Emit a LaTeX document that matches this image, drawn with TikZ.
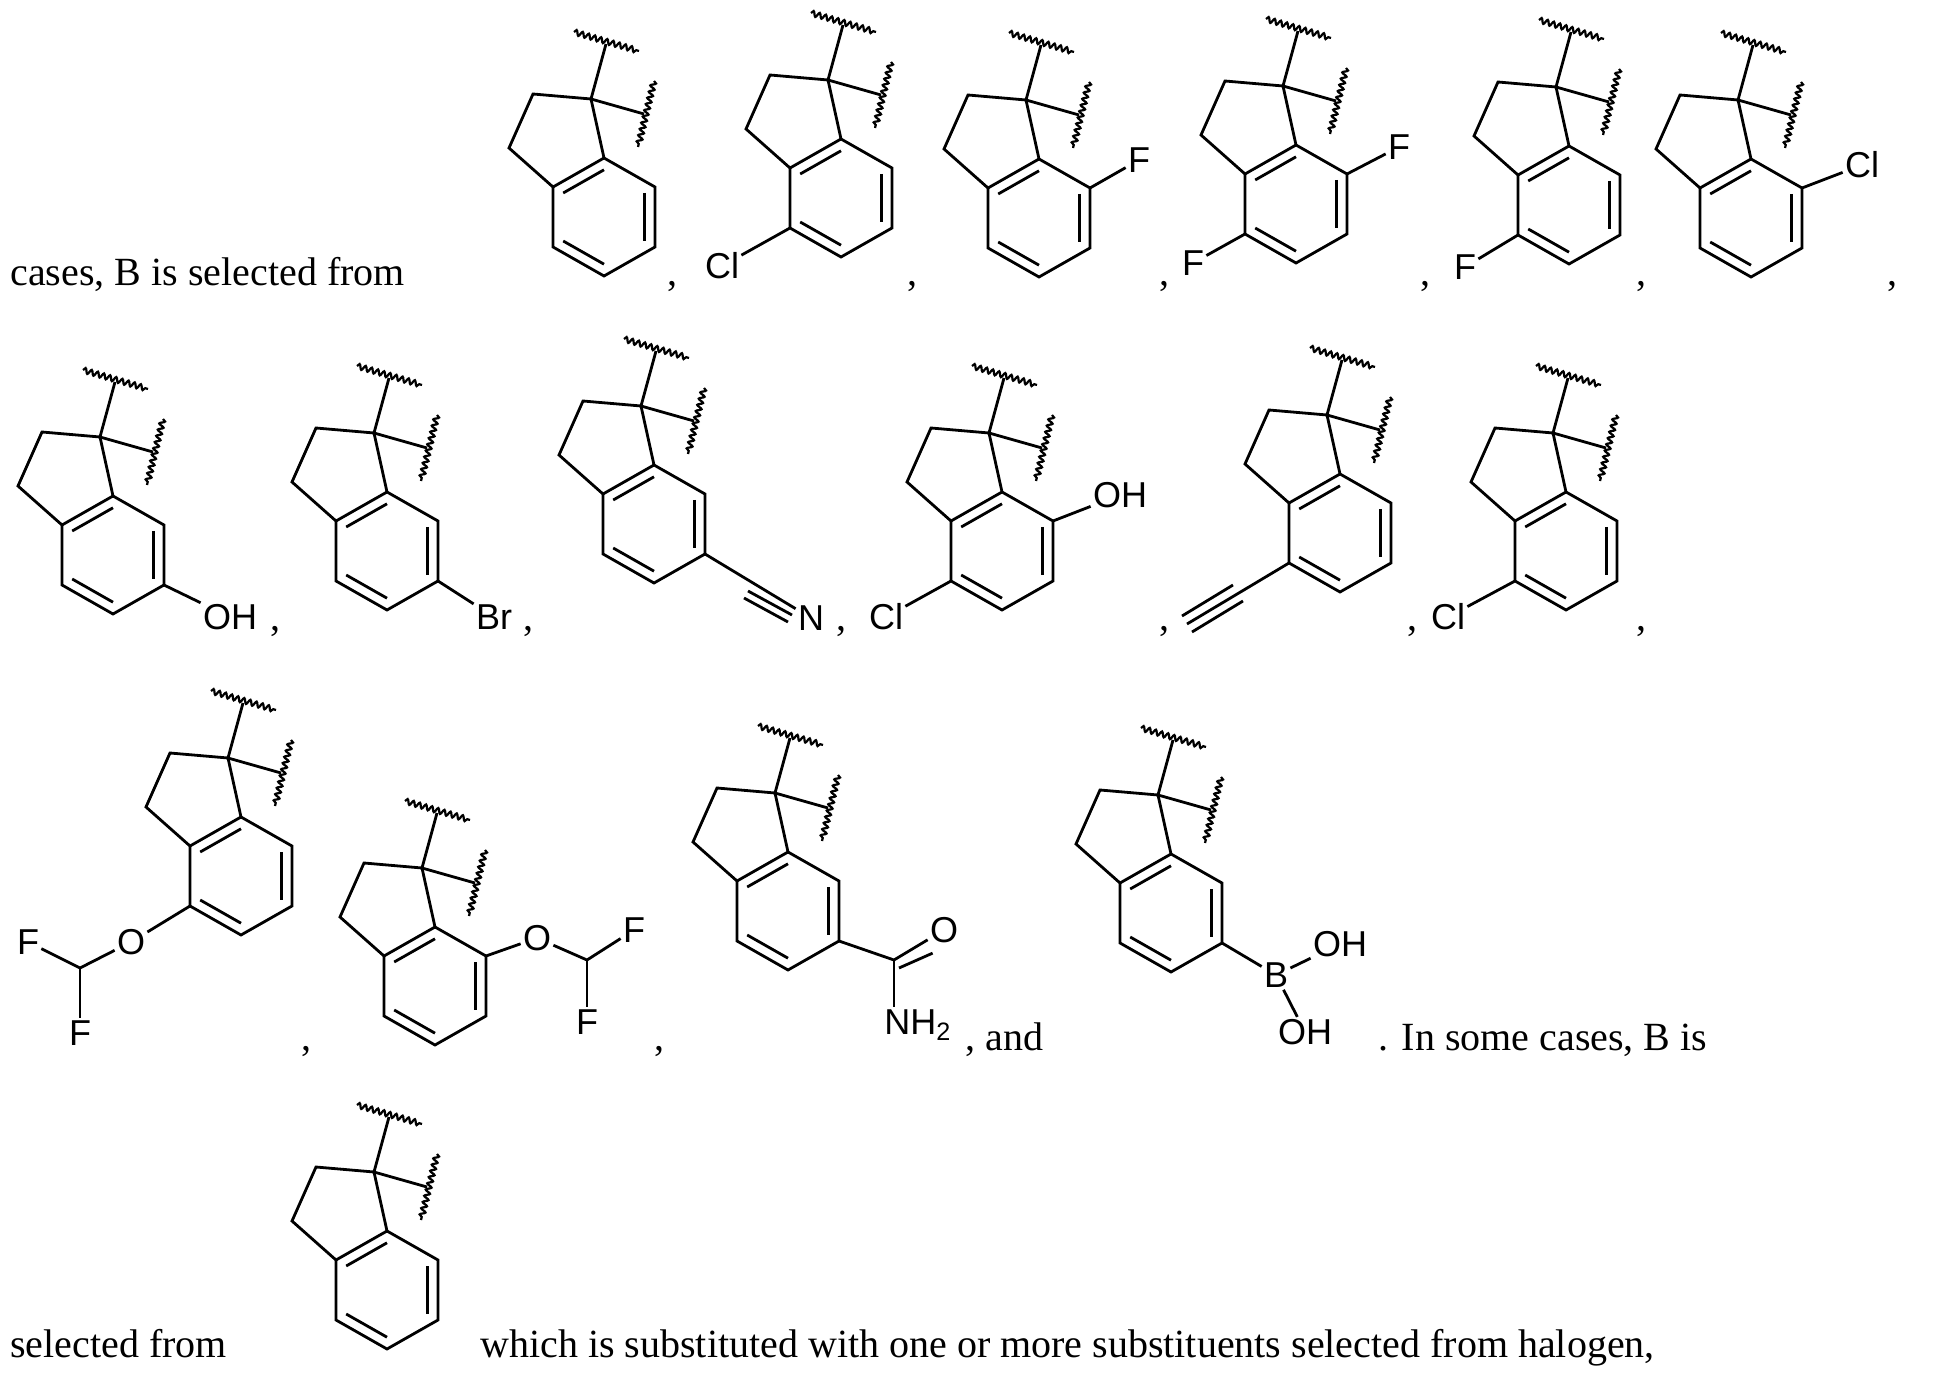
\documentclass[tikz,border=0pt]{standalone}
\usepackage{fontspec}
\setmainfont{Liberation Serif}
\newfontfamily\labfont{Liberation Sans}
\usetikzlibrary{positioning, calc, decorations.pathmorphing}

\tikzset{
  bond/.style={line width=1.4pt, line join=miter},
  wavy/.style={line width=1.1pt, decorate,
    decoration={snake, amplitude=1.3pt, segment length=3.2pt}},
  lab/.style={inner sep=1pt, font=\labfont\fontsize{18}{20}\selectfont},
  txt/.style={inner sep=0pt, anchor=base west, font=\fontsize{20}{24}\selectfont},
  indane/.pic={
    % ring atoms, spiro carbon at the origin
    \coordinate (-c1) at (0,0);
    \coordinate (-c3a) at (-38,88);
    \coordinate (-c4) at (-38,148);
    \coordinate (-c5) at (13,177);
    \coordinate (-c6) at (64,148);
    \coordinate (-c7) at (64,88);
    \coordinate (-c7a) at (13,59);
    \draw[bond] (0,0) -- (-58,-5) -- (-82,49) -- (-38,88) -- (-38,148)
      -- (13,177) -- (64,148) -- (64,88) -- (13,59) -- cycle;
    \draw[bond] (-38,88) -- (13,59);
    % inner lines of the aromatic ring
    \draw[bond] (-27.8,94) -- (13,70.8);
    \draw[bond] (53.8,94) -- (53.8,142);
    \draw[bond] (-27.8,142) -- (13,165.2);
    % attachment bonds
    \draw[bond] (0,0) -- (15,-55);
    \draw[bond] (0,0) -- (53,15);
    \draw[wavy] (-17,-67) -- (48,-48);
    \draw[wavy] (63,-18) -- (47,48);
  }
}

\begin{document}
\begin{tikzpicture}[x=0.5pt, y=-0.5pt]
    \useasboundingbox (0,0) rectangle (1953,1379);

    % Row 1
    \node[txt] (t1) at (10,286) {cases, B is selected from};
    \pic (a1) at (591,99) {indane};
    \node[txt] (k1) at (667,286) {,};
    \pic (a2) at (828,80) {indane};
    \node[lab] (a2cl) at (722,266) {Cl};
    \draw[bond] (a2-c4) -- (a2cl);
    \node[txt] (k2) at (907,286) {,};
    \pic (a3) at (1026,100) {indane};
    \node[lab] (a3f) at (1139,160) {F};
    \draw[bond] (a3-c7) -- (a3f);
    \node[txt] (k3) at (1159,286) {,};
    \pic (a4) at (1283,86) {indane};
    \node[lab] (a4f1) at (1399,147) {F};
    \node[lab] (a4f2) at (1193,263) {F};
    \draw[bond] (a4-c7) -- (a4f1);
    \draw[bond] (a4-c4) -- (a4f2);
    \node[txt] (k4) at (1420,286) {,};
    \pic (a5) at (1556,87) {indane};
    \node[lab] (a5f) at (1465,267) {F};
    \draw[bond] (a5-c4) -- (a5f);
    \node[txt] (k5) at (1636,286) {,};
    \pic (a6) at (1738,100) {indane};
    \node[lab] (a6cl) at (1862,165) {Cl};
    \draw[bond] (a6-c7) -- (a6cl);
    \node[txt] (k6) at (1887,286) {,};

    % Row 2
    \pic (b1) at (100,437) {indane};
    \node[lab] (b1oh) at (230,617) {OH};
    \draw[bond] (b1-c6) -- (b1oh);
    \node[txt] (k7) at (270,630) {,};
    \pic (b2) at (374,433) {indane};
    \node[lab] (b2br) at (494,617) {Br};
    \draw[bond] (b2-c6) -- (b2br);
    \node[txt] (k8) at (523,630) {,};
    \pic (b3) at (641,406) {indane};
    \node[lab] (b3n) at (811,618) {N};
    \coordinate (b3c) at (752,584);
    \coordinate (b3e) at (796,608);
    \draw[bond] (b3-c6) -- (b3n);
    \draw[bond] ([shift={(-4,7)}]b3c) -- ([shift={(-4,7)}]b3e);
    \draw[bond] ([shift={(-8,14)}]b3c) -- ([shift={(-8,14)}]b3e);
    \node[txt] (k9) at (836,630) {,};
    \pic (b4) at (989,433) {indane};
    \node[lab] (b4cl) at (886,617) {Cl};
    \node[lab] (b4oh) at (1120,495) {OH};
    \draw[bond] (b4-c4) -- (b4cl);
    \draw[bond] (b4-c7) -- (b4oh);
    \node[txt] (k10) at (1159,630) {,};
    \pic (b5) at (1327,415) {indane};
    \coordinate (b5m) at (1238,593);
    \coordinate (b5e) at (1187,624);
    \draw[bond] (b5-c4) -- (b5e);
    \draw[bond] ([shift={(5,8)}]b5m) -- ([shift={(5,8)}]b5e);
    \draw[bond] ([shift={(-5,-8)}]b5m) -- ([shift={(-5,-8)}]b5e);
    \node[txt] (k11) at (1407,630) {,};
    \pic (b6) at (1553,433) {indane};
    \node[lab] (b6cl) at (1448,617) {Cl};
    \draw[bond] (b6-c4) -- (b6cl);
    \node[txt] (k12) at (1636,630) {,};

    % Row 3
    \pic (c1) at (228,758) {indane};
    \node[lab] (c1o) at (131,942) {O};
    \coordinate (c1ch) at (80,968);
    \node[lab] (c1f1) at (28,942) {F};
    \node[lab] (c1f2) at (80,1033) {F};
    \draw[bond] (c1-c4) -- (c1o);
    \draw[bond] (c1o) -- (c1ch) -- (c1f1);
    \draw[bond] (c1ch) -- (c1f2);
    \node[txt] (k13) at (301,1050) {,};
    \pic (c2) at (422,868) {indane};
    \node[lab] (c2o) at (537,938) {O};
    \coordinate (c2ch) at (587,960);
    \node[lab] (c2f1) at (634,930) {F};
    \node[lab] (c2f2) at (587,1022) {F};
    \draw[bond] (c2-c7) -- (c2o);
    \draw[bond] (c2o) -- (c2ch) -- (c2f1);
    \draw[bond] (c2ch) -- (c2f2);
    \node[txt] (k14) at (654,1050) {,};
    \pic (c3) at (775,793) {indane};
    \coordinate (c3cc) at (894,960);
    \node[lab] (c3o) at (944,930) {O};
    \node[lab, anchor=west] (c3n) at (882,1025) {NH\textsubscript{2}};
    \draw[bond] (c3-c6) -- (c3cc) -- (c3o);
    \draw[bond] ([shift={(5,8)}]c3cc) -- ([shift={(5,8)}]c3o.south west);
    \draw[bond] (c3cc) -- (c3n.north -| c3cc);
    \node[txt] (k15) at (965,1050) {, and};
    \pic (c4) at (1158,795) {indane};
    \node[lab] (c4b) at (1276,975) {B};
    \node[lab] (c4oh1) at (1340,944) {OH};
    \node[lab] (c4oh2) at (1305,1032) {OH};
    \draw[bond] (c4-c6) -- (c4b);
    \draw[bond] (c4b) -- (c4oh1);
    \draw[bond] (c4b) -- (c4oh2);
    \node[txt] (t2) at (1378,1050) {. In some cases, B is};

    % Row 4
    \node[txt] (t3) at (10,1357) {selected from};
    \pic (d1) at (374,1172) {indane};
    \node[txt] (t4) at (480,1357) {which is substituted with one or more substituents selected from halogen,};
\end{tikzpicture}
\end{document}
